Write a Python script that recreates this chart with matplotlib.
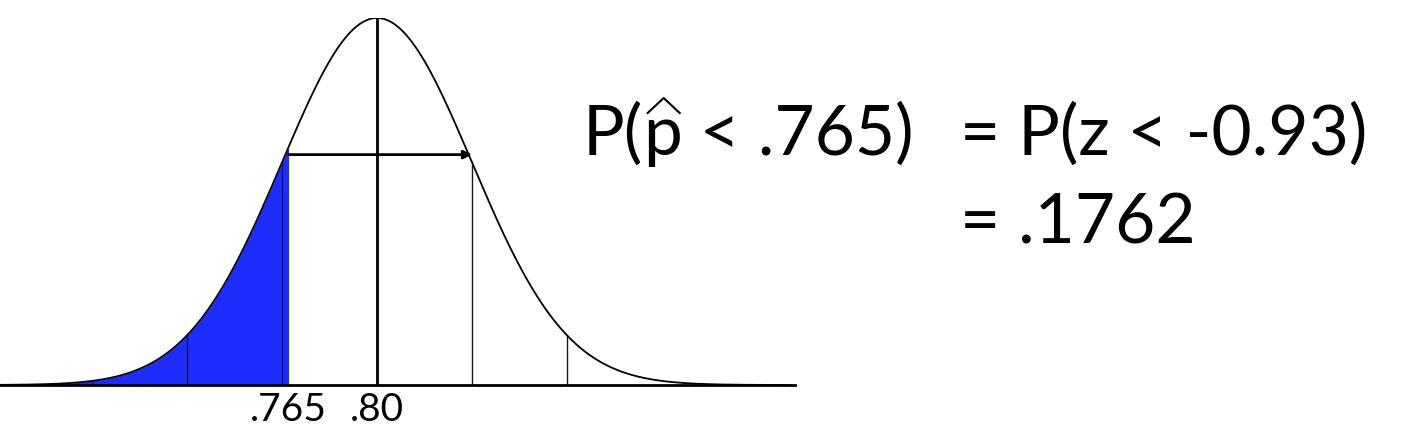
import numpy as np
import matplotlib
matplotlib.use("Agg")
import matplotlib.pyplot as plt
from matplotlib.lines import Line2D

# ---- data ----
mean = 0.80
sd = 0.0376
cutoff = 0.765
z_value = -0.93
prob = 0.1762
sd_marks = [-3, -2, -1, 1, 2]
tick_values = [0.765, 0.80]
tick_labels = [".765", ".80"]

W, H = 1409, 429
fig = plt.figure(figsize=(W / 100, H / 100), dpi=100)
fig.patch.set_facecolor("white")

ax = fig.add_axes([0, 44 / H, 795 / W, 367 / H])
px_per_sd = 95.0
xmin = mean - 377 / px_per_sd * sd
xmax = mean + 418 / px_per_sd * sd

def pdf(x):
    return np.exp(-0.5 * ((x - mean) / sd) ** 2) / (sd * np.sqrt(2 * np.pi))

peak = pdf(mean)
x = np.linspace(xmin, mean + 413 / px_per_sd * sd, 800)
y = pdf(x)

# shaded tail
xs = x[x <= cutoff]
ax.fill_between(np.append(xs, cutoff), np.append(pdf(xs), pdf(cutoff)), 0,
                color="#1d2cff", lw=0, zorder=1)
ax.plot(x, y, color="black", lw=1.3, zorder=3)

# sd lines
for k in sd_marks:
    xv = mean + k * sd
    ax.plot([xv, xv], [0, pdf(xv)], color="#1a1a1a" if xv > cutoff else "#10145a",
            lw=1.0, zorder=2)
ax.plot([mean, mean], [0, peak], color="black", lw=2.0, zorder=3)

# arrow
ya = pdf(mean + sd) * 1.035
ax.annotate("", xy=(mean + sd, ya), xytext=(cutoff, ya),
            arrowprops=dict(arrowstyle="-|>", color="black", lw=2.0,
                            mutation_scale=12, shrinkA=0, shrinkB=0), zorder=4)

ax.set_xlim(xmin, xmax)
ax.set_ylim(0, peak)
for s in ["top", "right", "left"]:
    ax.spines[s].set_visible(False)
ax.spines["bottom"].set_linewidth(2.0)
ax.set_yticks([])
ax.set_xticks(tick_values)
ax.set_xticklabels(tick_labels, fontsize=28, family="Lato")
ax.tick_params(axis="x", length=0, pad=5)
ax.patch.set_alpha(0)

# ---- formula text ----
fs = 50
fam = "Lato"
renderer = fig.canvas.get_renderer()
base1 = H - 155
base2 = H - 243

def put(xpix, ypix, s):
    t = fig.text(xpix / W, ypix / H, s, fontsize=fs, family=fam,
                 ha="left", va="baseline", color="black")
    bb = t.get_window_extent(renderer)
    return t, bb

t1, b1 = put(583, base1, "P(")
t2, b2 = put(b1.x1, base1, "p")
# hat over p
cx = (b2.x0 + b2.x1) / 2 + 1
hx = [cx - 16, cx, cx + 16]
hy = [H - 113, H - 98, H - 113]
fig.add_artist(Line2D([v / W for v in hx], [v / H for v in hy],
                      color="black", lw=1.5, transform=fig.transFigure))
t3, b3 = put(b2.x1, base1, " < %s)" % ".765")
t4, b4 = put(960, base1, "= P(z < %.2f)" % z_value)
t5, b5 = put(960, base2, "= .%d" % round(prob * 10000))

fig.savefig("out.png", dpi=100, facecolor="white")
